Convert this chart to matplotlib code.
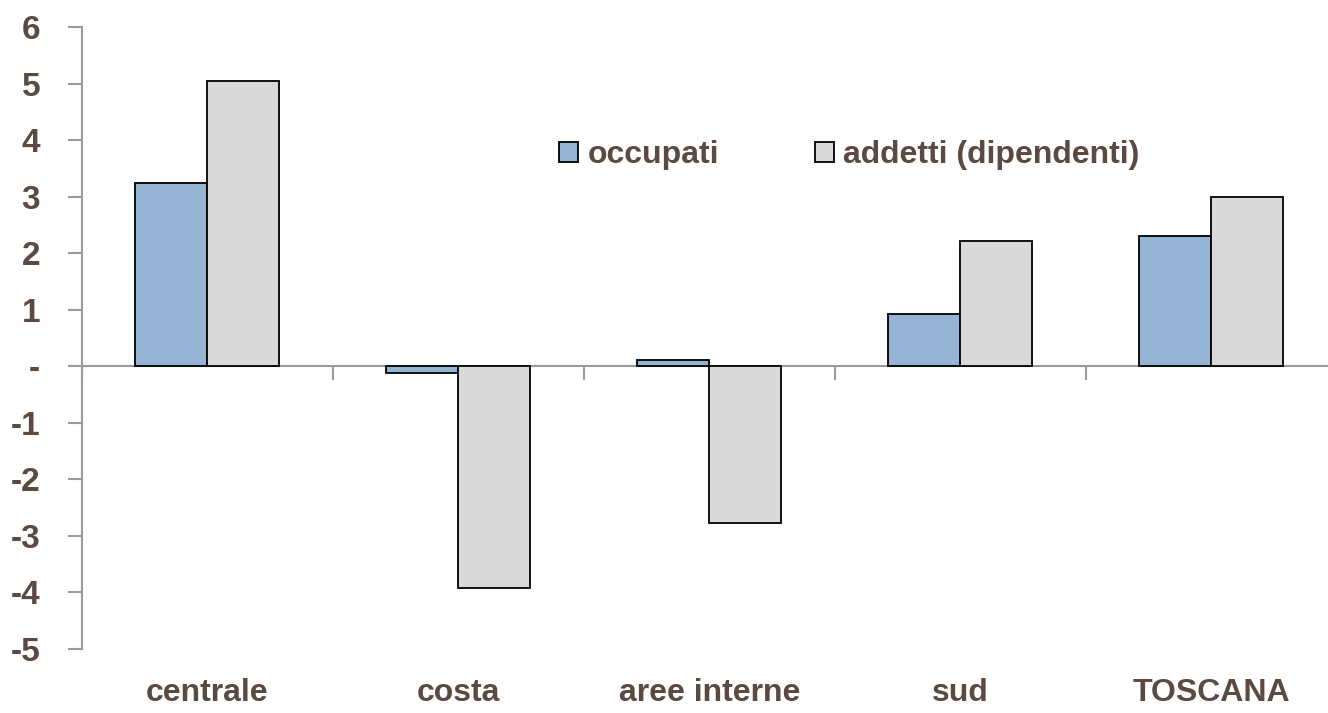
import matplotlib.pyplot as plt
import numpy as np

categories = ['centrale', 'costa', 'aree interne', 'sud', 'TOSCANA']
occupati = [3.24, -0.12, 0.12, 0.92, 2.30]
addetti = [5.04, -3.93, -2.78, 2.21, 2.99]
yticks = [6, 5, 4, 3, 2, 1, 0, -1, -2, -3, -4, -5]
ylabels = ['6', '5', '4', '3', '2', '1', '-', '-1', '-2', '-3', '-4', '-5']

txt = '#5a4a42'
axcol = '#9a9a9a'
plt.rcParams['font.family'] = ['Liberation Sans Narrow', 'Liberation Sans', 'DejaVu Sans']
plt.rcParams['font.weight'] = 'bold'

fig = plt.figure(figsize=(13.28, 7.13), dpi=100)
ax = fig.add_axes([0.0617, 0.0898, 0.945, 0.872])

x = np.arange(len(categories))
w = 0.287
ax.bar(x - w / 2, occupati, w, color='#95b3d3', edgecolor='black', linewidth=1.3, label='occupati', zorder=3)
ax.bar(x + w / 2, addetti, w, color='#d9d9d9', edgecolor='black', linewidth=1.3, label='addetti (dipendenti)', zorder=3)

ax.set_xlim(-0.5, len(categories) - 0.5)
ax.set_ylim(-5, 6)
ax.set_yticks(yticks)
ax.set_yticklabels(ylabels, fontsize=24, fontweight='bold', color=txt)
ax.tick_params(axis='y', length=10, width=1.5, color=axcol, pad=20)

ax.spines['bottom'].set_position(('data', 0))
ax.spines['bottom'].set_color(axcol)
ax.spines['bottom'].set_linewidth(1.5)
ax.spines['left'].set_color(axcol)
ax.spines['left'].set_linewidth(1.5)
ax.spines['top'].set_visible(False)
ax.spines['right'].set_visible(False)
ax.set_xticks(np.arange(len(categories) + 1) - 0.5)
ax.set_xticklabels([])
ax.tick_params(axis='x', length=10, width=1.5, color=axcol, direction='out')

for i, c in enumerate(categories):
    ax.text(i, -5.78, c, ha='center', va='center', fontsize=23, fontweight='bold', color=txt, clip_on=False)

leg = fig.legend(loc='center left', bbox_to_anchor=(0.399, 0.782), ncol=2, frameon=False,
                 fontsize=23, handlelength=0.6, handleheight=0.6, handletextpad=0.3,
                 columnspacing=3.0, labelcolor=txt)
for t in leg.get_texts():
    t.set_fontweight('bold')

fig.savefig('out.png', dpi=100)
